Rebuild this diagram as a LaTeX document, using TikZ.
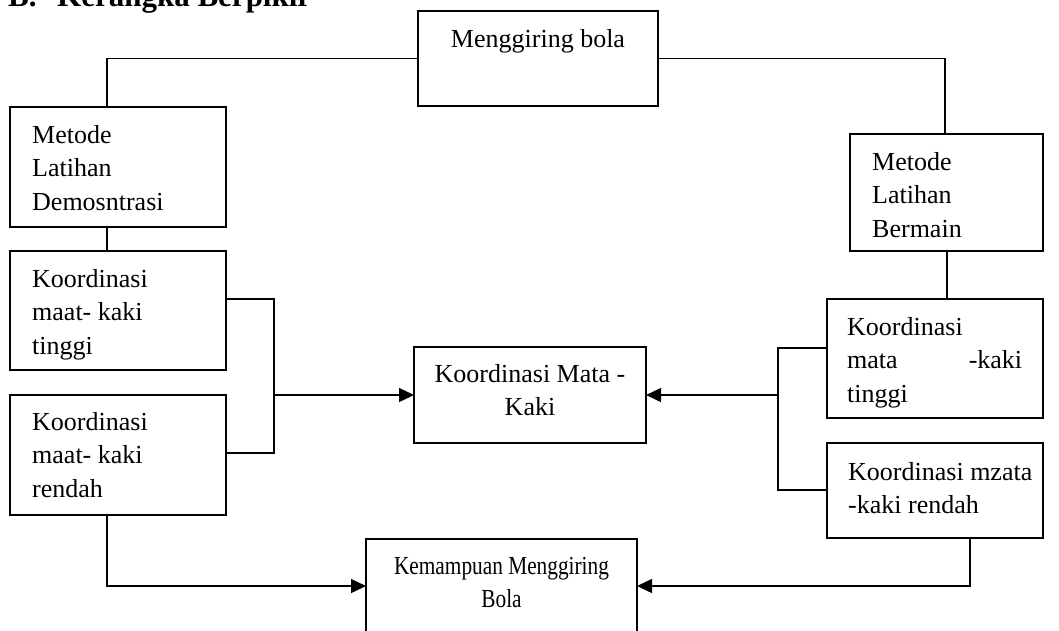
\documentclass[tikz,border=0pt]{standalone}
\usepackage{fontspec}
\setmainfont{Liberation Serif}
\usetikzlibrary{arrows.meta,calc}
\newcommand{\bodyfont}{\fontsize{26}{33.5}\selectfont}
\newcommand{\headfont}{\fontsize{31}{36}\selectfont\bfseries}
\begin{document}
\begin{tikzpicture}[x=1pt,y=-1pt,
  box/.style={draw, line width=1.4pt, inner sep=0pt, outer sep=0pt, anchor=north west},
  txtl/.style={inner sep=0pt, anchor=north west, align=left, font=\bodyfont},
  txtc/.style={inner sep=0pt, anchor=north, align=center, font=\bodyfont},
  ln/.style={line width=1.4pt},
  arr/.style={line width=1.4pt, -{Triangle[length=15pt,width=14pt]}}]
\clip (0,0) rectangle (1059,630);
% heading (cut off at top)
\node[anchor=base west, inner sep=0pt, font=\headfont] (title) at (8,6) {\makebox[49pt][l]{B.}Kerangka Berpikir};
% boxes
\node[box, minimum width=240pt, minimum height=95pt] (mb) at (418,11) {};
\node[box, minimum width=216pt, minimum height=120pt] (mld) at (10,107) {};
\node[box, minimum width=216pt, minimum height=119pt] (klt) at (10,251) {};
\node[box, minimum width=216pt, minimum height=120pt] (klr) at (10,395) {};
\node[box, minimum width=232pt, minimum height=96pt] (mk) at (414,347) {};
\node[box, minimum width=193pt, minimum height=117pt] (mlb) at (850,134) {};
\node[box, minimum width=216pt, minimum height=119pt] (krt) at (827,299) {};
\node[box, minimum width=216pt, minimum height=95pt] (krr) at (827,443) {};
\node[box, minimum width=271pt, minimum height=94pt] (km) at (366,539) {};
% texts
\node[txtc] (tmb) at (538,29) {Menggiring bola};
\node[txtl] (tmld) at (32,125) {Metode\\Latihan\\Demosntrasi};
\node[txtl] (tklt) at (32,269) {Koordinasi\\maat- kaki\\tinggi};
\node[txtl] (tklr) at (32,412) {Koordinasi\\maat- kaki\\rendah};
\node[txtl] (tmlb) at (872,152) {Metode\\Latihan\\Bermain};
\node[txtl] (tkrt) at (847,317) {Koordinasi\\\makebox[175pt][s]{mata\hfill-kaki}\\tinggi};
\node[txtl] (tkrr) at (848,462) {Koordinasi mzata\\-kaki rendah};
\node[txtc] (tmk) at (530,364) {Koordinasi Mata -\\Kaki};
\node[txtc] (tkm) at (501.5,557) {\scalebox{0.82}[1]{Kemampuan Menggiring}\\\scalebox{0.82}[1]{Bola}};
% connectors
\draw[ln] (mb.west) -| ([xshift=97pt]mld.north west);
\draw[ln] ([xshift=97pt]mld.south west) -- ([xshift=97pt]klt.north west);
\draw[ln] (mb.east) -| ([xshift=95pt]mlb.north west);
\draw[ln] ([xshift=97pt]mlb.south west) -- ([xshift=97pt]mlb.south west |- krt.north);
\coordinate (lb) at (274,395);
\coordinate (rb) at (778,395);
\draw[ln] ([yshift=-48pt]klt.north east) -| (lb) |- ([yshift=-58pt]klr.north east);
\draw[arr] (lb) -- (mk.west);
\draw[ln] ([yshift=-49pt]krt.north west) -| (rb) |- ([yshift=-47pt]krr.north west);
\draw[arr] (rb) -- (mk.east);
\draw[arr] ([xshift=97pt]klr.south west) |- (km.west);
\draw[arr] ([xshift=143pt]krr.south west) |- (km.east);
\end{tikzpicture}
\end{document}
